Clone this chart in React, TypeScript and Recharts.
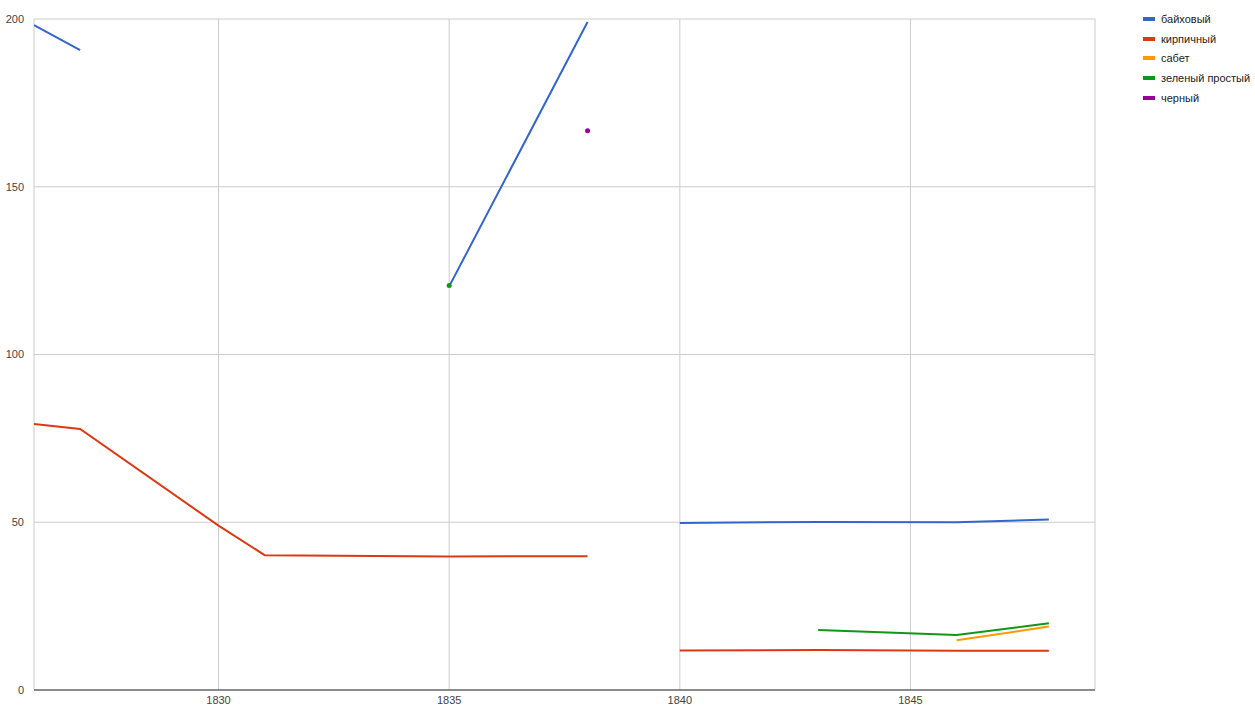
import React from 'react';
import { LineChart, Line, XAxis, YAxis, CartesianGrid } from 'recharts';

const years = [1826, 1827, 1830, 1831, 1835, 1838, 1839, 1840, 1843, 1846, 1848];
const baikhovy = [198.2, 190.7, null, null, 120.3, 199.1, null, 49.8, 50.1, 50.0, 50.8];
const kirpichny = [79.3, 77.8, 49.0, 40.2, 39.8, 39.9, null, 11.8, 11.9, 11.7, 11.7];
const sabet = [null, null, null, null, null, null, null, null, null, 14.8, 18.9];
const zeleny = [null, null, null, null, 120.6, null, null, null, 17.9, 16.4, 19.9];
const cherny = [null, null, null, null, null, 166.7, null, null, null, null, null];

const xTicks = [1830, 1835, 1840, 1845];
const yTicks = [0, 50, 100, 150, 200];

const series = [
  { key: 'b', name: 'байховый', color: '#3366cc', values: baikhovy },
  { key: 'k', name: 'кирпичный', color: '#dc3912', values: kirpichny },
  { key: 's', name: 'сабет', color: '#ff9900', values: sabet },
  { key: 'z', name: 'зеленый простый', color: '#109618', values: zeleny },
  { key: 'c', name: 'черный', color: '#990099', values: cherny },
];

const data = years.map((year, i) => {
  const row: any = { year };
  series.forEach((s) => { row[s.key] = s.values[i]; });
  return row;
});

const FONT = "Arial, 'Liberation Sans', sans-serif";

// only draw a dot where a point has no neighbours to connect to
const isolatedDot = (values: (number | null)[], color: string) => (props: any) => {
  const { cx, cy, index } = props;
  const prev = index > 0 ? values[index - 1] : null;
  const next = index < values.length - 1 ? values[index + 1] : null;
  if (values[index] == null || prev != null || next != null || cx == null || cy == null) {
    return <g key={`d-${index}`} />;
  }
  return <circle key={`d-${index}`} cx={cx} cy={cy} r={2.5} fill={color} stroke="none" />;
};

export default function App() {
  return (
    <div style={{ position: 'absolute', left: 0, top: 0, width: 1255, height: 708, background: '#fff', fontFamily: FONT }}>
      <LineChart width={1255} height={708} data={data} margin={{ top: 19, right: 160, left: 0, bottom: 0 }}>
        <CartesianGrid stroke="#cccccc" strokeWidth={1} />
        <XAxis
          dataKey="year"
          type="number"
          domain={[1826, 1849]}
          ticks={xTicks}
          allowDataOverflow
          axisLine={{ stroke: '#333333', strokeWidth: 1 }}
          tickLine={false}
          height={18}
          tick={{ fontSize: 11, fill: '#444444', fontFamily: FONT, dy: -2 }}
        />
        <YAxis
          domain={[0, 200]}
          ticks={yTicks}
          width={34}
          axisLine={false}
          tickLine={false}
          tick={{ fontSize: 11, fill: '#444444', fontFamily: FONT, dx: -2 }}
        />
        {series.map((s) => (
          <Line
            key={s.key}
            dataKey={s.key}
            name={s.name}
            type="linear"
            stroke={s.color}
            strokeWidth={2}
            connectNulls={false}
            dot={isolatedDot(s.values, s.color)}
            activeDot={false}
            isAnimationActive={false}
          />
        ))}
      </LineChart>
      <div style={{ position: 'absolute', left: 1143, top: 9 }}>
        {series.map((s) => (
          <div key={s.key} style={{ display: 'flex', alignItems: 'center', height: 19.7, fontSize: 11, color: '#222222' }}>
            <span style={{ display: 'inline-block', width: 12, height: 4, background: s.color, marginRight: 6 }} />
            {s.name}
          </div>
        ))}
      </div>
    </div>
  );
}
